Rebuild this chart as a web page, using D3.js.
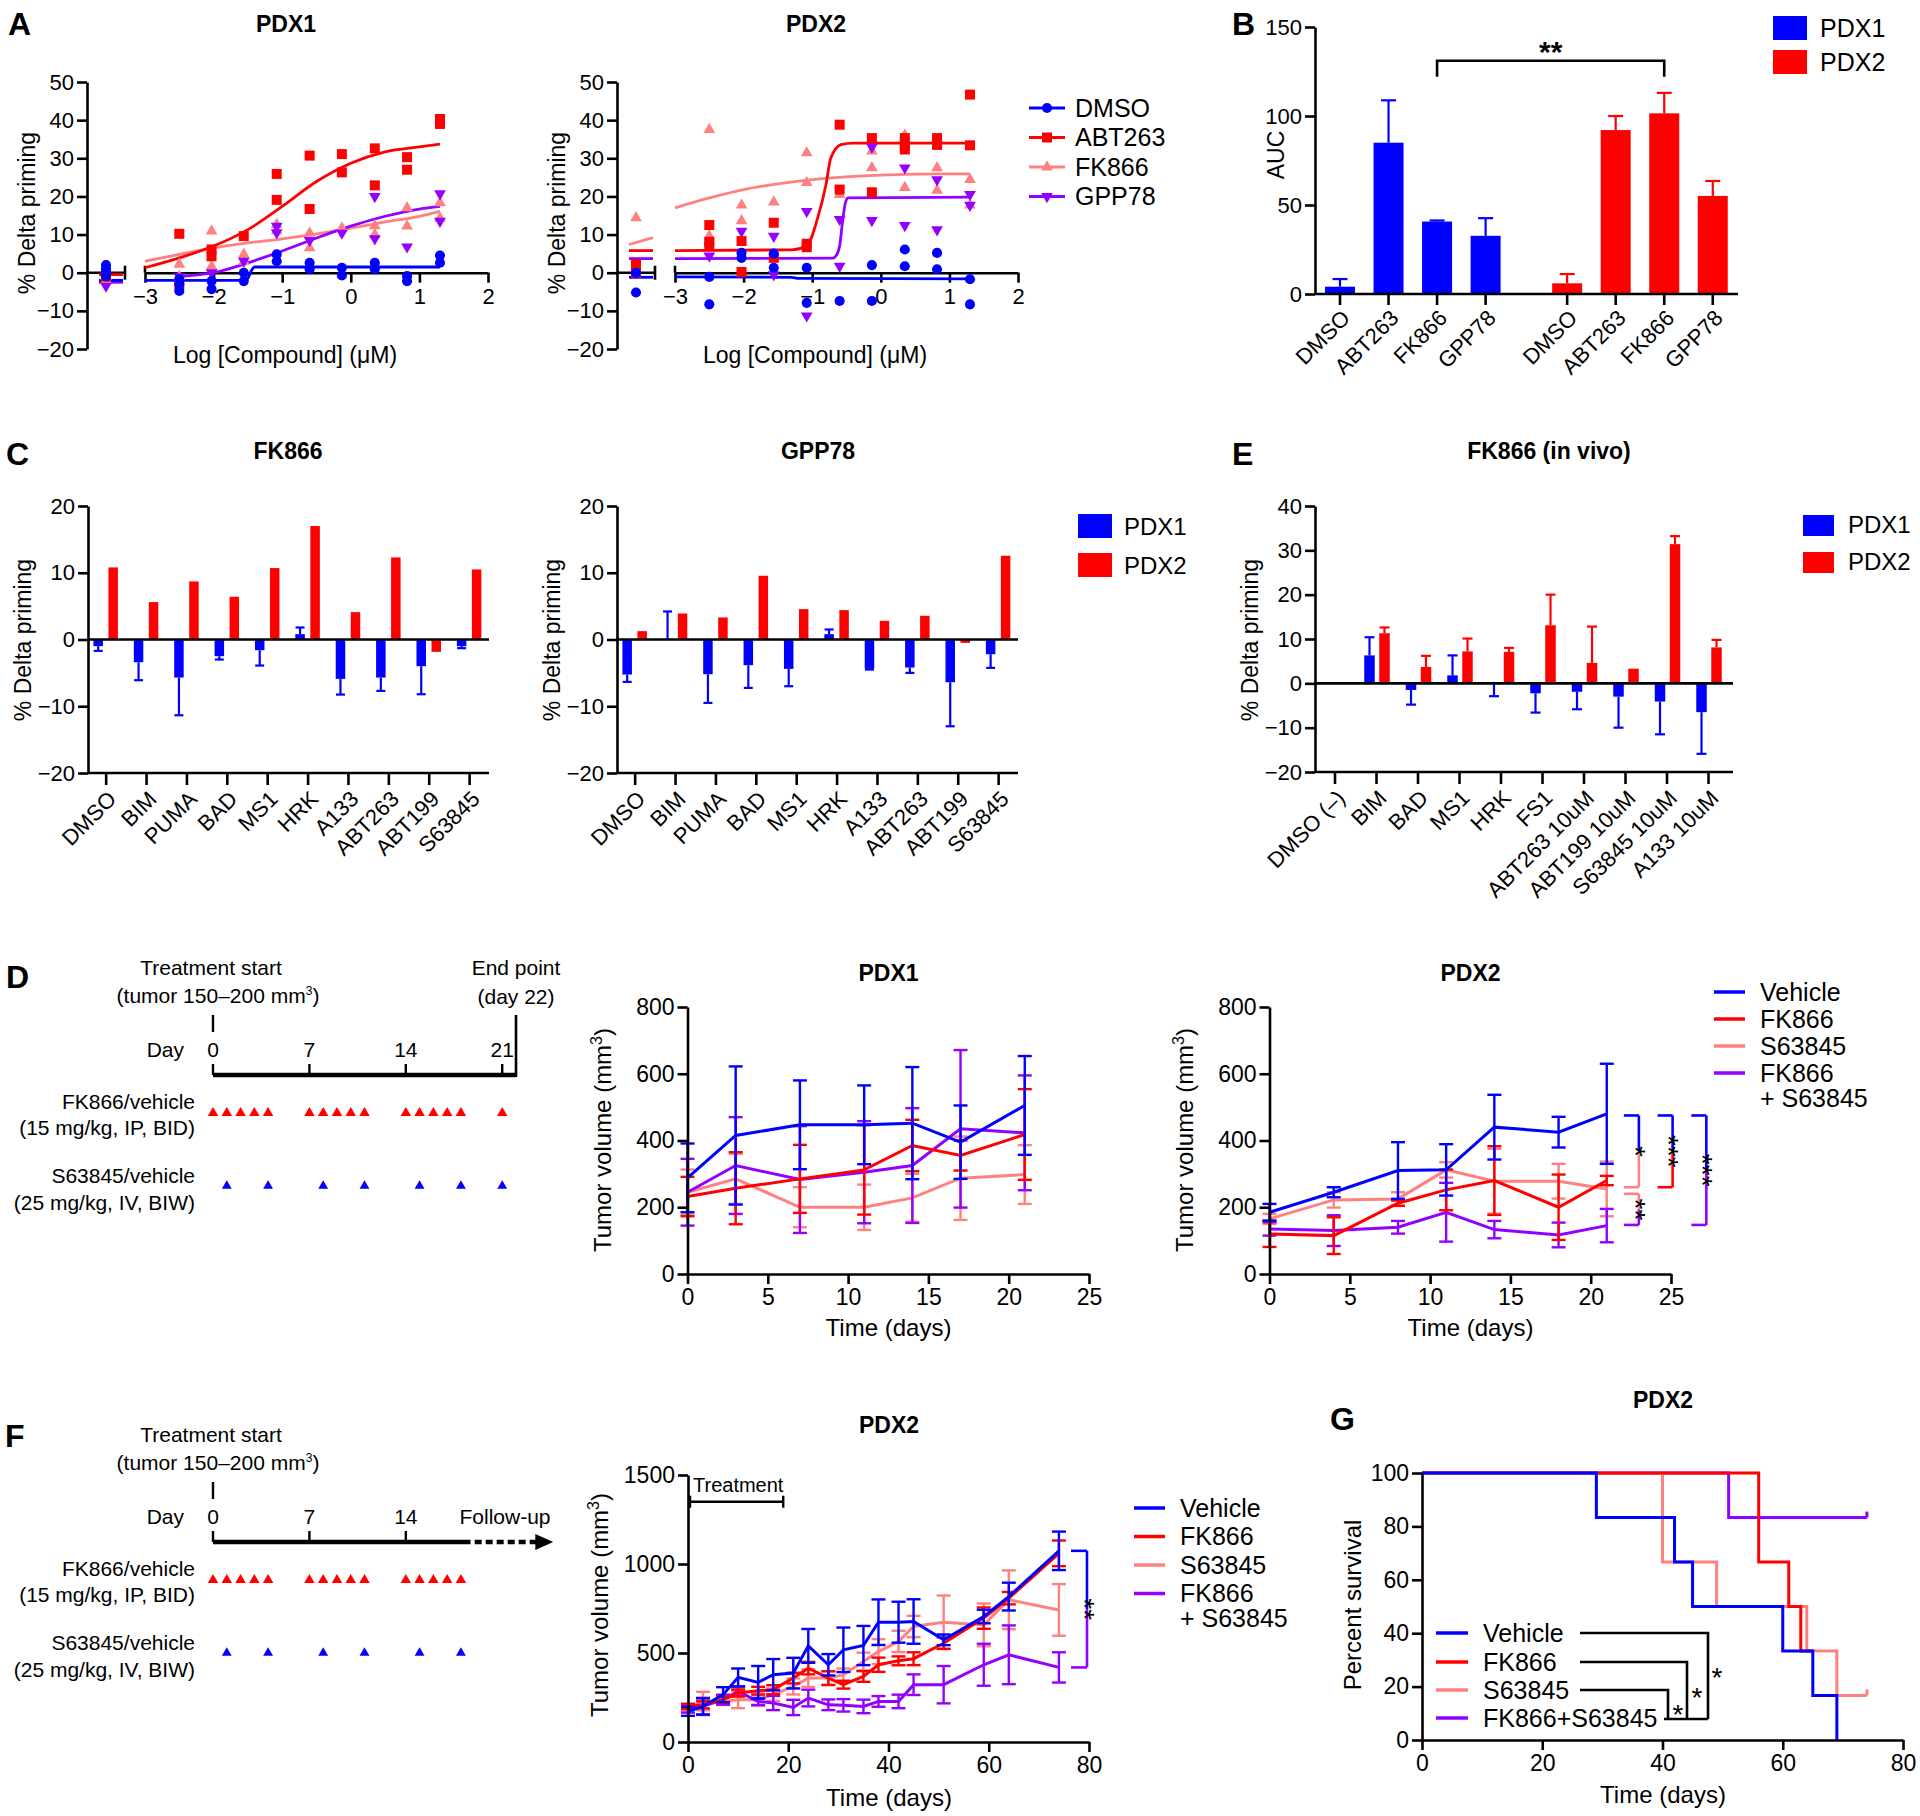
<!DOCTYPE html>
<html>
<head>
<meta charset="utf-8">
<script src="https://cdn.jsdelivr.net/npm/d3@7"></script>
<style>
body { margin: 0; background: #fff; }
svg text { font-family: "Liberation Sans", Arial, Helvetica, sans-serif; fill: #000; }
</style>
</head>
<body>
<svg id="fig" width="1920" height="1816"></svg>
<script>
// ---------- A: dose response ----------
var logConc = [-2.5, -2.03, -1.56, -1.08, -0.6, -0.13, 0.35, 0.82, 1.3];
var aSeries = ['DMSO', 'ABT263', 'FK866', 'GPP78'];

var a1Ctl = [[2, 1, 0, -1], [0, -1], [-1, -2], [-3.5]];
var a1DMSO = [[-1.7, -3, -4.8], [-2.2, -4.3], [0, -2.2], [4.8, 3], [2.6, 0.9], [1.3, -0.7], [2.6, 0.9], [-0.9, -2.2], [4.5, 2.6]];
var a1ABT = [[10.2, -3], [6.1, 4.3], [9.6], [25.9, 19.1], [30.7, 16.7], [31.1, 26.3], [32.6, 22.9], [30.3, 27], [40.3, 39]];
var a1FK = [[2.2, -1], [10.9, 1.7], [4.8, 3], [12.6, 11], [10.4, 6.5], [11.7], [12.3, 10], [17, 12.2], [18.3, 14.3]];
var a1GPP = [[-1], [0], [3], [12.2, 10.5], [8.5], [10.4], [20, 8.9], [6.8], [20.7, 13.5]];
var a1FitX = [[-3, -1.55, -1.5, -1.45, -1.4, 1.3], [-3, -2.5, -2, -1.5, -1, -0.5, 0, 0.5, 1, 1.3], [-3, -2.5, -2, -1.5, -1, -0.5, 0, 0.5, 1, 1.3], [-2.5, -2, -1.5, -1, -0.5, 0, 0.5, 1, 1.3]];
var a1FitY = [[-2, -2, -1.5, 0.5, 1.5, 1.5], [1.3, 3.9, 7, 11.3, 17.4, 23.9, 28.7, 31.7, 33, 33.7], [3, 4.8, 6.5, 7.8, 8.9, 10.2, 11.7, 13.3, 14.8, 16.1], [-1, 0, 2.6, 5.7, 9.1, 12.2, 14.8, 16.7, 17.4]];
var a1Left = [[-2, -2], [-0.5, -0.5], [-2, -2], [-2.5, -2.5]];

var a2Ctl = [[0, -5.2], [2.2, 0], [14.4], []];
var a2DMSO = [[-1.1, -8.3], [5.2, 3.9], [5, 1.3], [1.3, -7.9], [-7.4], [2, -7.4], [6.1, 1.7], [5.2, 0.9], [-1.7, -8.3]];
var a2ABT = [[12.5, 8.1, 7], [8.3, 0.2], [13.1, 3.9], [7.6, 6.7], [38.8, 21.8], [35.3, 21.1], [35.3, 33.4, 32.3], [35.3, 33.5], [46.7, 33.4]];
var a2FK = [[37.5, 9.6], [17.7, 13.6], [18.5], [31.4, 23.6], [20.5], [31.9, 27.5], [36, 22.3], [27.5, 21.6], [24.4, 17.7]];
var a2GPP = [[4.4], [10.9], [9.6, -0.5], [16.1, -11.3], [14, 1.7], [33, 13.7], [27.5, 12.4], [24.4, 11.3], [20.5, 17.7]];
var a2FitX = [[-3, -1.3, -1.2, 1.3], [-3, -1.3, -1.08, -0.92, -0.8, -0.73, -0.58, -0.4, 1.3], [-3, -2.5, -2, -1.5, -1, 0, 1, 1.3], [-3, -0.7, -0.65, -0.6, -0.56, -0.52, -0.48, 1.3]];
var a2FitY = [[-1.1, -1.2, -1.5, -1.6], [5.8, 6, 7, 14.4, 23, 30, 33.6, 34, 34], [17, 19.6, 21.8, 23.3, 24.4, 25.6, 25.9, 25.9], [3.7, 3.8, 4.5, 7, 13, 18, 19.6, 19.8]];
var a2Left = [[-1.2, -1.2], [5.8, 5.8], [7.4, 9.2], [3.7, 3.7]];

// ---------- B: AUC ----------
var bCats = ['DMSO', 'ABT263', 'FK866', 'GPP78'];
var bPdx1 = [4.1, 85, 40.7, 32.7];
var bPdx1Err = [4.3, 23.8, 0.6, 9.9];
var bPdx2 = [6, 92.1, 101.5, 55.1];
var bPdx2Err = [5.2, 7.9, 11.5, 8.4];

// ---------- C: peptides ----------
var cCats = ['DMSO', 'BIM', 'PUMA', 'BAD', 'MS1', 'HRK', 'A133', 'ABT263', 'ABT199', 'S63845'];
var cFkPdx1 = [-1, -3.4, -5.7, -2.5, -1.6, 0.8, -5.9, -5.7, -4, -1];
var cFkPdx1Err = [0.7, 2.7, 5.65, 0.5, 2.3, 1.0, 2.35, 2.0, 4.2, 0.3];
var cFkPdx2 = [10.8, 5.6, 8.7, 6.4, 10.7, 17, 4.1, 12.3, -1.85, 10.5];
var cGpPdx1 = [-5.25, 0.1, -5.2, -3.85, -4.4, 0.8, -4.4, -4.2, -6.4, -2.2];
var cGpPdx1Err = [1.1, 4.1, 4.3, 3.4, 2.6, 0.7, 0.1, 0.8, 6.6, 2.05];
var cGpPdx2 = [1.25, 3.9, 3.3, 9.55, 4.55, 4.4, 2.8, 3.55, -0.5, 12.55];

// ---------- E: in vivo ----------
var eCats = ['DMSO (\u2013)', 'BIM', 'BAD', 'MS1', 'HRK', 'FS1', 'ABT263 10uM', 'ABT199 10uM', 'S63845 10uM', 'A133 10uM'];
var ePdx1 = [0, 6.3, -1.5, 1.8, -0.2, -2.25, -1.9, -3, -4.1, -6.5];
var ePdx1Err = [0, 4.1, 3.3, 4.5, 2.7, 4.35, 3.95, 7, 7.4, 9.4];
var ePdx2 = [0, 11.3, 3.7, 7.2, 7.1, 13.1, 4.6, 3.3, 31.4, 8.1];
var ePdx2Err = [0, 1.3, 2.5, 2.9, 0.9, 6.9, 8.2, 0, 1.8, 1.7];

// ---------- D: tumor growth ----------
var gSeries = ['Vehicle', 'FK866', 'S63845', 'FK866 + S63845'];
var dP1Days = [0, 3, 7, 11, 14, 17, 21];
var dP1Mean = [[288, 415, 447, 447, 452, 395, 505], [232, 257, 285, 312, 385, 355, 418], [245, 285, 200, 200, 228, 287, 298], [245, 325, 283, 305, 325, 435, 423]];
var dP1Err = [[103, 207, 133, 118, 168, 110, 148], [59, 108, 102, 134, 77, 45, 136], [68, 75, 60, 68, 72, 125, 88], [100, 145, 160, 153, 172, 236, 172]];
var dP2Days = [0, 4, 8, 11, 14, 18, 21];
var dP2Mean = [[185, 245, 310, 312, 440, 425, 480], [120, 115, 212, 252, 280, 200, 280], [165, 222, 225, 312, 278, 278, 255], [135, 130, 140, 185, 133, 117, 145]];
var dP2Err = [[25, 15, 85, 77, 97, 46, 150], [39, 55, 8, 61, 103, 98, 14], [15, 23, 20, 23, 97, 52, 82], [20, 46, 19, 88, 26, 37, 50]];
var dSigFrom = [0, 0, 0, 2], dSigTo = [2, 1, 3, 3];
var dSigTop = [475, 475, 475, 240], dSigBot = [260, 260, 147, 147];
var dSigDay = [23, 25.1, 27.2, 23];
var dSigLabel = ['*', '***', '***', '**'];

// schedules
var schedTicks = [0, 7, 14, 21];
var dFkDoses = [0, 1, 2, 3, 4, 7, 8, 9, 10, 11, 14, 15, 16, 17, 18, 21];
var dS6Doses = [1, 4, 8, 11, 15, 18, 21];
var fFkDoses = [0, 1, 2, 3, 4, 7, 8, 9, 10, 11, 14, 15, 16, 17, 18];
var fS6Doses = [1, 4, 8, 11, 15, 18];

// ---------- F: long follow-up ----------
var fDays = [0, 3, 7, 10, 14, 17, 21, 24, 28, 31, 35, 38, 42, 45, 51, 59, 64, 74];
var fMean = [
  [172, 200, 266, 363, 335, 378, 387, 540, 434, 518, 542, 673, 673, 677, 574, 705, 817, 1074],
  [200, 209, 238, 275, 288, 294, 359, 415, 359, 322, 368, 434, 456, 468, 555, 696, 808, 1060],
  [190, 230, 228, 238, 238, 266, 312, 359, 359, 378, 452, 508, 565, 649, 673, 658, 799, 742],
  [185, 200, 238, 284, 228, 219, 194, 247, 209, 206, 200, 228, 228, 322, 322, 434, 490, 419]];
var fErr = [
  [25, 45, 42, 50, 92, 88, 86, 95, 60, 125, 110, 128, 115, 125, 30, 38, 78, 108],
  [15, 20, 18, 20, 22, 25, 30, 35, 38, 22, 30, 40, 25, 36, 32, 60, 35, 72],
  [18, 52, 20, 48, 35, 35, 45, 50, 40, 35, 50, 70, 60, 60, 150, 120, 165, 145],
  [20, 48, 28, 25, 20, 40, 43, 47, 30, 35, 38, 30, 38, 58, 105, 118, 165, 85]];
var fTreatDays = [0, 19];

// ---------- G: survival ----------
var gT = [[0, 29, 42, 45, 60, 65, 69], [0, 56, 61, 63, 65], [0, 40, 49, 64, 69, 74], [0, 51, 74]];
var gS = [[100, 83.3, 66.7, 50, 33.3, 16.7, 0], [100, 66.7, 50, 33.3, 33.3], [100, 66.7, 50, 33.3, 16.7, 16.7], [100, 83.3, 83.3]];
var gLegend = ['Vehicle', 'FK866', 'S63845', 'FK866+S63845'];

// =====================================================
var BLUE = '#0000ff', RED = '#ff0000', PINK = '#ff8080', PURPLE = '#9400ff';
var sColor = [BLUE, RED, PINK, PURPLE];
var FONT = '"Liberation Sans", Arial, Helvetica, sans-serif';
var fmt = d3.format('d');
var svg = d3.select('#fig');

function styleAxis(g, size) {
  g.attr('font-family', FONT).attr('font-size', size);
  g.select('.domain').attr('stroke', '#000').attr('stroke-width', 2.6);
  g.selectAll('.tick line').attr('stroke', '#000').attr('stroke-width', 2.6);
  g.selectAll('.tick text').attr('fill', '#000');
  return g;
}
function text(x, y, s, size, anchor, bold) {
  return svg.append('text').attr('x', x).attr('y', y).attr('font-size', size)
    .attr('text-anchor', anchor || 'start').attr('font-weight', bold ? 'bold' : null).text(s);
}
function yTitle(x, y, s, size) {
  return svg.append('text').attr('transform', 'translate(' + x + ',' + y + ') rotate(-90)')
    .attr('text-anchor', 'middle').attr('dy', '0.35em').attr('font-size', size).text(s);
}
function volTitle(x, y) {
  var t = svg.append('text').attr('transform', 'translate(' + x + ',' + y + ') rotate(-90)')
    .attr('text-anchor', 'middle').attr('dy', '0.35em').attr('font-size', 24);
  t.append('tspan').text('Tumor volume (mm');
  t.append('tspan').attr('dy', -9).attr('font-size', 16).text('3');
  t.append('tspan').attr('dy', 9).text(')');
}
function hline(g, x1, x2, y, color, w) {
  return g.append('line').attr('x1', x1).attr('x2', x2).attr('y1', y).attr('y2', y).attr('stroke', color).attr('stroke-width', w);
}
function vline(g, x, y1, y2, color, w) {
  return g.append('line').attr('x1', x).attr('x2', x).attr('y1', y1).attr('y2', y2).attr('stroke', color).attr('stroke-width', w);
}

// panel letters
[['A', 8, 35], ['B', 1232, 35], ['C', 6, 465], ['E', 1232, 465], ['D', 6, 988], ['F', 5, 1447], ['G', 1330, 1430]]
  .forEach(function (p) { text(p[1], p[2], p[0], 32, 'start', true); });

// ---------- Panel A ----------
var aSym = [d3.symbolCircle, d3.symbolSquare, d3.symbolTriangle, d3.symbolTriangle];
var aSize = [80, 100, 60, 60];
var aRot = [0, 0, 0, 180];
function marker(g, i, x, y) {
  g.append('path').attr('d', d3.symbol(aSym[i], aSize[i])())
    .attr('transform', 'translate(' + x + ',' + y + ') rotate(' + aRot[i] + ')')
    .attr('fill', sColor[i]);
}
function drawDose(ax, title, ctl, pts, fitX, fitY, left) {
  var y = d3.scaleLinear().domain([-20, 50]).range([349, 82]);
  var x = d3.scaleLinear().domain([-3, 2]).range([ax + 58, ax + 401]);
  var dmsoX = ax + 19, y0 = y(0), brk = ax + 38;
  var g = svg.append('g');
  styleAxis(g.append('g').attr('transform', 'translate(' + ax + ',0)')
    .call(d3.axisLeft(y).tickValues(d3.range(-20, 51, 10)).tickFormat(fmt).tickSize(10).tickSizeOuter(0).tickPadding(3)), 22);
  styleAxis(g.append('g').attr('transform', 'translate(0,' + y0 + ')')
    .call(d3.axisBottom(x).tickValues(d3.range(-3, 3)).tickFormat(fmt).tickSize(10).tickSizeOuter(0).tickPadding(6)), 22);
  hline(g, ax, brk, y0, '#000', 2.6);
  vline(g, brk, y0 - 7, y0 + 7, '#000', 2.6);
  vline(g, x(-3), y0 - 7, y0, '#000', 2.6);
  var line = d3.line().x(function (d) { return x(d[0]); }).y(function (d) { return y(d[1]); }).curve(d3.curveMonotoneX);
  [2, 3, 1, 0].forEach(function (i) {
    g.append('path').datum(fitX[i].map(function (v, k) { return [v, fitY[i][k]]; }))
      .attr('d', line).attr('fill', 'none').attr('stroke', sColor[i]).attr('stroke-width', 2.8);
    g.append('line').attr('x1', dmsoX - 7).attr('x2', brk - 2).attr('y1', y(left[i][0])).attr('y2', y(left[i][1]))
      .attr('stroke', sColor[i]).attr('stroke-width', 2.8);
  });
  [2, 3, 1, 0].forEach(function (i) {
    ctl[i].forEach(function (v) { marker(g, i, dmsoX, y(v)); });
    pts[i].forEach(function (reps, k) { reps.forEach(function (v) { marker(g, i, x(logConc[k]), y(v)); }); });
  });
  text(ax + 199, 32, title, 23, 'middle', true);
  text(ax + 198, 363, 'Log [Compound] (\u03bcM)', 23, 'middle');
  yTitle(ax - 60, 213, '% Delta priming', 23);
}
drawDose(87, 'PDX1', a1Ctl, [a1DMSO, a1ABT, a1FK, a1GPP], a1FitX, a1FitY, a1Left);
drawDose(617, 'PDX2', a2Ctl, [a2DMSO, a2ABT, a2FK, a2GPP], a2FitX, a2FitY, a2Left);

var legA = svg.append('g');
aSeries.forEach(function (s, i) {
  var yy = 108 + i * 29.5;
  hline(legA, 1029, 1065, yy, sColor[i], 2.8);
  marker(legA, i, 1047, yy);
  legA.append('text').attr('x', 1075).attr('y', yy).attr('dy', '0.35em').attr('font-size', 25).text(s);
});

// ---------- rotated category labels ----------
function rotLabels(g, xs, cats, yTop, size) {
  g.selectAll(null).data(cats).enter().append('text')
    .attr('transform', function (d, i) { return 'translate(' + (xs(i) + 6) + ',' + yTop + ') rotate(-45)'; })
    .attr('text-anchor', 'end').attr('dy', '0.35em').attr('font-size', size).text(function (d) { return d; });
}
function errCap(g, x, yA, yB, half, color) {
  vline(g, x, yA, yB, color, 2.2);
  hline(g, x - half, x + half, yB, color, 2.2);
}

// ---------- Panel B ----------
(function () {
  var GROUP = 4.68;
  var ax = 1315, axEnd = 1738;
  var y = d3.scaleLinear().domain([0, 150]).range([294, 27]);
  var x = d3.scaleLinear().domain([-0.515, 8.2]).range([ax, axEnd]);
  var g = svg.append('g');
  var groups = [[bPdx1, bPdx1Err, BLUE], [bPdx2, bPdx2Err, RED]];
  var slots = [];
  groups.forEach(function (gr, gi) {
    gr[0].forEach(function (v, i) {
      var s = i + gi * GROUP, cx = x(s);
      slots.push(s);
      g.append('rect').attr('x', cx - 15).attr('width', 30).attr('y', y(v)).attr('height', y(0) - y(v)).attr('fill', gr[2]);
      errCap(g, cx, y(v), y(v + gr[1][i]), 7.5, gr[2]);
    });
  });
  styleAxis(g.append('g').attr('transform', 'translate(' + ax + ',0)')
    .call(d3.axisLeft(y).tickValues([0, 50, 100, 150]).tickFormat(fmt).tickSize(10).tickSizeOuter(0).tickPadding(3)), 22);
  hline(g, ax, axEnd, y(0), '#000', 2.6);
  slots.forEach(function (s) { vline(g, x(s), y(0), y(0) + 11, '#000', 2.6); });
  var sx = function (i) { return x(slots[i]); };
  rotLabels(g, sx, bCats.concat(bCats), y(0) + 20, 22);
  yTitle(1276, 155, 'AUC', 23);
  // significance bracket FK866 PDX1 vs PDX2
  var x1 = x(2), x2 = x(2 + GROUP), yb = y(131), yl = y(122);
  g.append('path').attr('d', 'M' + x1 + ',' + yl + 'V' + yb + 'H' + x2 + 'V' + yl)
    .attr('fill', 'none').attr('stroke', '#000').attr('stroke-width', 2.6);
  text((x1 + x2) / 2, 62, '**', 30, 'middle', true);
  g.append('rect').attr('x', 1773).attr('y', 16).attr('width', 34).attr('height', 24).attr('fill', BLUE);
  g.append('rect').attr('x', 1773).attr('y', 50).attr('width', 34).attr('height', 24).attr('fill', RED);
  text(1820, 37, 'PDX1', 25); text(1820, 71, 'PDX2', 25);
})();

// ---------- Panels C and E ----------
function drawPeptide(o) {
  var y = d3.scaleLinear().domain(o.yDomain).range([o.yBottom, 506]);
  var x = d3.scaleLinear().domain(o.xDomain).range([o.ax, o.axEnd]);
  var g = svg.append('g');
  o.cats.forEach(function (c, i) {
    var b = x(i) + o.offB, r = x(i) + o.offR, v1 = o.v1[i], v2 = o.v2[i];
    g.append('rect').attr('x', b - o.bw / 2).attr('width', o.bw).attr('y', Math.min(y(v1), y(0))).attr('height', Math.abs(y(v1) - y(0))).attr('fill', BLUE);
    g.append('rect').attr('x', r - o.bw / 2).attr('width', o.bw).attr('y', Math.min(y(v2), y(0))).attr('height', Math.abs(y(v2) - y(0))).attr('fill', RED);
    if (o.e1[i] > 0) errCap(g, b, y(v1), y(v1 + (v1 >= 0 ? 1 : -1) * o.e1[i]), o.cap, BLUE);
    if (o.e2 && o.e2[i] > 0) errCap(g, r, y(v2), y(v2 + (v2 >= 0 ? 1 : -1) * o.e2[i]), o.cap, RED);
  });
  hline(g, o.ax, o.axEnd, y(0), '#000', 2.6);
  styleAxis(g.append('g').attr('transform', 'translate(' + o.ax + ',0)')
    .call(d3.axisLeft(y).tickValues(o.yTicks).tickFormat(fmt).tickSize(10).tickSizeOuter(0).tickPadding(3)), 22);
  var yb = y(o.yDomain[0]);
  hline(g, o.ax, o.axEnd, yb, '#000', 2.6);
  o.cats.forEach(function (c, i) { vline(g, x(i), yb, yb + 12, '#000', 2.6); });
  rotLabels(g, x, o.cats, yb + 22, 22);
  text(o.titleX, 459, o.title, 23, 'middle', true);
  yTitle(o.yTitleX, 640, '% Delta priming', 23);
}
drawPeptide({ ax: 88, axEnd: 489, yTitleX: 23, title: 'FK866', titleX: 288, cats: cCats, v1: cFkPdx1, e1: cFkPdx1Err, v2: cFkPdx2, e2: null,
  yDomain: [-20, 20], yBottom: 773, yTicks: [-20, -10, 0, 10, 20], xDomain: [-0.45, 9.48], offB: -8, offR: 7, bw: 9.5, cap: 4.5 });
drawPeptide({ ax: 617, axEnd: 1018, yTitleX: 552, title: 'GPP78', titleX: 818, cats: cCats, v1: cGpPdx1, e1: cGpPdx1Err, v2: cGpPdx2, e2: null,
  yDomain: [-20, 20], yBottom: 773, yTicks: [-20, -10, 0, 10, 20], xDomain: [-0.45, 9.48], offB: -8, offR: 7, bw: 9.5, cap: 4.5 });
drawPeptide({ ax: 1315, axEnd: 1733, yTitleX: 1250, title: 'FK866 (in vivo)', titleX: 1549, cats: eCats, v1: ePdx1, e1: ePdx1Err, v2: ePdx2, e2: ePdx2Err,
  yDomain: [-20, 40], yBottom: 772, yTicks: [-20, -10, 0, 10, 20, 30, 40], xDomain: [-0.482, 9.59], offB: -7, offR: 8, bw: 10.5, cap: 5 });

function squareLegend(x, y1, y2, w, h, tx, size) {
  svg.append('rect').attr('x', x).attr('y', y1).attr('width', w).attr('height', h).attr('fill', BLUE);
  svg.append('rect').attr('x', x).attr('y', y2).attr('width', w).attr('height', h).attr('fill', RED);
  text(tx, y1 + h - 3, 'PDX1', size); text(tx, y2 + h - 3, 'PDX2', size);
}
squareLegend(1078, 514, 553, 34, 24, 1124, 24);
squareLegend(1803, 515, 552, 31, 21, 1848, 24);

// ---------- Schedules D and F ----------
function schedule(axisY, fkDoses, s6Doses, ticks, endPoint) {
  var ds = d3.scaleLinear().domain([0, 22]).range([213, 516]);
  var g = svg.append('g');
  text(ds(0) - 2, axisY - 100, 'Treatment start', 21, 'middle');
  var t = svg.append('text').attr('x', ds(0) + 5).attr('y', axisY - 72).attr('font-size', 21).attr('text-anchor', 'middle');
  t.append('tspan').text('(tumor 150\u2013200 mm');
  t.append('tspan').attr('dy', -8).attr('font-size', 12).text('3');
  t.append('tspan').attr('dy', 8).text(')');
  vline(g, ds(0), axisY - 60, axisY - 43, '#000', 2.4);
  text(184, axisY - 18, 'Day', 21, 'end');
  ticks.forEach(function (d) {
    text(ds(d), axisY - 18, d, 21, 'middle');
    vline(g, ds(d), axisY - 11, axisY, '#000', 2.4);
  });
  if (endPoint) {
    hline(g, ds(0), ds(22), axisY, '#000', 4.5);
    vline(g, ds(22), axisY - 60, axisY + 2, '#000', 2.6);
    text(ds(22), axisY - 100, 'End point', 21, 'middle');
    text(ds(22), axisY - 71, '(day 22)', 21, 'middle');
  } else {
    hline(g, ds(0), ds(18.7), axisY, '#000', 4.5);
    g.append('line').attr('x1', ds(19)).attr('x2', ds(23.5)).attr('y1', axisY).attr('y2', axisY)
      .attr('stroke', '#000').attr('stroke-width', 4.5).attr('stroke-dasharray', '7,4');
    g.append('path').attr('d', 'M' + ds(23.4) + ',' + (axisY - 8) + 'L' + ds(24.7) + ',' + axisY + 'L' + ds(23.4) + ',' + (axisY + 8) + 'Z');
    text(ds(21.2), axisY - 18, 'Follow-up', 21, 'middle');
  }
  text(195, axisY + 34, 'FK866/vehicle', 21, 'end');
  text(195, axisY + 60, '(15 mg/kg, IP, BID)', 21, 'end');
  text(195, axisY + 108, 'S63845/vehicle', 21, 'end');
  text(195, axisY + 135, '(25 mg/kg, IV, BIW)', 21, 'end');
  fkDoses.forEach(function (d) {
    g.append('path').attr('d', d3.symbol(d3.symbolTriangle, 48)()).attr('fill', RED)
      .attr('transform', 'translate(' + ds(d) + ',' + (axisY + 38) + ')');
  });
  s6Doses.forEach(function (d) {
    g.append('path').attr('d', d3.symbol(d3.symbolTriangle, 42)()).attr('fill', BLUE)
      .attr('transform', 'translate(' + ds(d) + ',' + (axisY + 111) + ')');
  });
}
schedule(1075, dFkDoses, dS6Doses, schedTicks, true);
schedule(1542, fFkDoses, fS6Doses, [0, 7, 14], false);

// ---------- growth curves ----------
function growth(g, xs, ys, days, means, errs, color, half) {
  days.forEach(function (d, i) {
    var x = xs(d), lo = ys(means[i] - errs[i]), hi = ys(means[i] + errs[i]);
    vline(g, x, lo, hi, color, 2.4);
    hline(g, x - half, x + half, lo, color, 2.4);
    hline(g, x - half, x + half, hi, color, 2.4);
  });
  g.append('path').datum(days.map(function (d, i) { return [d, means[i]]; }))
    .attr('fill', 'none').attr('stroke', color).attr('stroke-width', 3)
    .attr('d', d3.line().x(function (p) { return xs(p[0]); }).y(function (p) { return ys(p[1]); }));
}
function bracket(g, x, yTop, yBot, cTop, cBot, w) {
  var mid = (yTop + yBot) / 2;
  hline(g, x - w, x, yTop, cTop, 2.6);
  vline(g, x, yTop, mid, cTop, 2.6);
  vline(g, x, mid, yBot, cBot, 2.6);
  hline(g, x - w, x, yBot, cBot, 2.6);
}
function stars(x, y, s) {
  svg.append('text').attr('transform', 'translate(' + x + ',' + y + ') rotate(90)')
    .attr('text-anchor', 'middle').attr('dy', '0.62em').attr('font-size', 28).text(s);
}
function drawGrowthD(ax, title, days, means, errs) {
  var x = d3.scaleLinear().domain([0, 25]).range([ax, ax + 401.5]);
  var y = d3.scaleLinear().domain([0, 800]).range([1274, 1007]);
  var g = svg.append('g');
  [2, 3, 1, 0].forEach(function (i) { growth(g, x, y, days, means[i], errs[i], sColor[i], 7); });
  styleAxis(g.append('g').attr('transform', 'translate(' + ax + ',0)')
    .call(d3.axisLeft(y).tickValues([0, 200, 400, 600, 800]).tickFormat(fmt).tickSize(10).tickSizeOuter(0).tickPadding(3)), 23);
  styleAxis(g.append('g').attr('transform', 'translate(0,1274)')
    .call(d3.axisBottom(x).tickValues([0, 5, 10, 15, 20, 25]).tickFormat(fmt).tickSize(10).tickSizeOuter(0).tickPadding(5)), 23);
  text(ax + 201, 981, title, 23, 'middle', true);
  text(ax + 201, 1336, 'Time (days)', 24, 'middle');
  volTitle(ax - 85, 1140);
  return { x: x, y: y, g: g };
}
drawGrowthD(687.5, 'PDX1', dP1Days, dP1Mean, dP1Err);
var dp2 = drawGrowthD(1269.5, 'PDX2', dP2Days, dP2Mean, dP2Err);
dSigLabel.forEach(function (s, k) {
  var xx = dp2.x(dSigDay[k]), yt = dp2.y(dSigTop[k]), yb = dp2.y(dSigBot[k]);
  bracket(dp2.g, xx, yt, yb, sColor[dSigFrom[k]], sColor[dSigTo[k]], 15);
  stars(xx + 4, (yt + yb) / 2, s);
});

function lineLegend(x, y0, gap) {
  gSeries.forEach(function (s, i) {
    var yy = y0 + i * gap;
    hline(svg, x, x + 31, yy, sColor[i], 3.5);
    var t = svg.append('text').attr('x', x + 46).attr('y', yy).attr('dy', '0.35em').attr('font-size', 25);
    if (i < 3) t.text(s);
    else {
      t.text('FK866');
      svg.append('text').attr('x', x + 46).attr('y', yy + 25).attr('dy', '0.35em').attr('font-size', 25).text('+ S63845');
    }
  });
}
lineLegend(1714, 992, 27);

// ---------- Panel F ----------
(function () {
  var x = d3.scaleLinear().domain([0, 80]).range([688, 1089]);
  var y = d3.scaleLinear().domain([0, 1500]).range([1742, 1475]);
  var g = svg.append('g');
  [2, 3, 1, 0].forEach(function (i) { growth(g, x, y, fDays, fMean[i], fErr[i], sColor[i], 7); });
  styleAxis(g.append('g').attr('transform', 'translate(688,0)')
    .call(d3.axisLeft(y).tickValues([0, 500, 1000, 1500]).tickFormat(fmt).tickSize(10).tickSizeOuter(0).tickPadding(3)), 23);
  styleAxis(g.append('g').attr('transform', 'translate(0,1742)')
    .call(d3.axisBottom(x).tickValues([0, 20, 40, 60, 80]).tickFormat(fmt).tickSize(10).tickSizeOuter(0).tickPadding(5)), 23);
  var ty = y(1350);
  hline(g, x(fTreatDays[0]) + 2, x(fTreatDays[1]), ty, '#000', 2.4);
  vline(g, x(fTreatDays[0]) + 2, ty - 6, ty + 6, '#000', 2.4);
  vline(g, x(fTreatDays[1]), ty - 6, ty + 6, '#000', 2.4);
  text(x(1), ty - 10, 'Treatment', 20, 'start');
  var last = fDays.length - 1;
  bracket(g, x(79.6), y(fMean[0][last]), y(fMean[3][last]), BLUE, PURPLE, 16);
  stars(x(79.6) + 5, (y(fMean[0][last]) + y(fMean[3][last])) / 2, '**');
  text(889, 1433, 'PDX2', 23, 'middle', true);
  text(889, 1806, 'Time (days)', 24, 'middle');
  volTitle(600, 1605);
})();
lineLegend(1134, 1508, 28.5);

// ---------- Panel G ----------
(function () {
  var x = d3.scaleLinear().domain([0, 80]).range([1422, 1903]);
  var y = d3.scaleLinear().domain([0, 100]).range([1740, 1473]);
  var g = svg.append('g');
  var step = d3.line().x(function (d) { return x(d[0]); }).y(function (d) { return y(d[1]); }).curve(d3.curveStepAfter);
  [3, 2, 1, 0].forEach(function (i) {
    var pts = gT[i].map(function (t, k) { return [t, gS[i][k]]; });
    g.append('path').datum(pts).attr('d', step).attr('fill', 'none').attr('stroke', sColor[i]).attr('stroke-width', 3);
    if (i >= 2) {
      var lt = pts[pts.length - 1];
      vline(g, x(lt[0]), y(lt[1]), y(lt[1]) - 6, sColor[i], 3);
    }
  });
  styleAxis(g.append('g').attr('transform', 'translate(1422,0)')
    .call(d3.axisLeft(y).tickValues([0, 20, 40, 60, 80, 100]).tickFormat(fmt).tickSize(10).tickSizeOuter(0).tickPadding(3)), 23);
  styleAxis(g.append('g').attr('transform', 'translate(0,1740)')
    .call(d3.axisBottom(x).tickValues([0, 20, 40, 60, 80]).tickFormat(fmt).tickSize(10).tickSizeOuter(0).tickPadding(5)), 23);
  var rows = [1633, 1662, 1690, 1718];
  gLegend.forEach(function (s, i) {
    hline(g, 1436, 1468, rows[i], sColor[i], 3.5);
    g.append('text').attr('x', 1483).attr('y', rows[i]).attr('dy', '0.35em').attr('font-size', 25).text(s);
  });
  var ends = [1708, 1687, 1668];
  ends.forEach(function (xe, i) {
    g.append('path').attr('d', 'M1580,' + rows[i] + 'H' + xe + 'V1719').attr('fill', 'none').attr('stroke', '#000').attr('stroke-width', 2.6);
  });
  hline(g, 1664, 1708, 1719, '#000', 2.6);
  [[1717, 1670], [1697, 1690], [1678, 1707]].forEach(function (p) {
    g.append('text').attr('x', p[0]).attr('y', p[1]).attr('dy', '0.6em').attr('text-anchor', 'middle').attr('font-size', 28).text('*');
  });
  text(1663, 1408, 'PDX2', 23, 'middle', true);
  text(1663, 1803, 'Time (days)', 24, 'middle');
  yTitle(1353, 1605, 'Percent survival', 24);
})();
</script>
</body>
</html>
